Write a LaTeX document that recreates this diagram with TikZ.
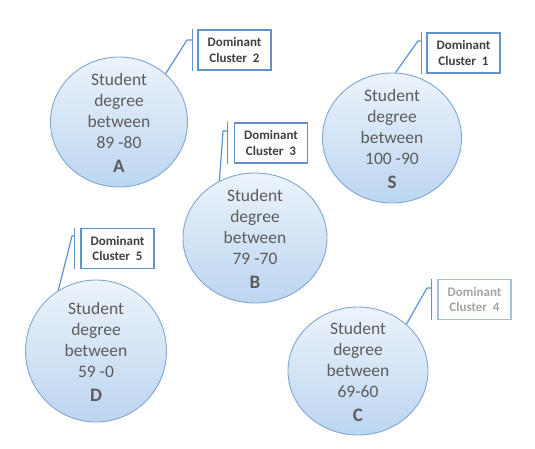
\documentclass[tikz,border=0pt]{standalone}
\usepackage{fontspec}
\setmainfont{Carlito}
\usetikzlibrary{shapes.geometric}
\definecolor{cborder}{RGB}{128,166,212}
\definecolor{ctop}{RGB}{236,243,251}
\definecolor{cbot}{RGB}{188,213,240}
\definecolor{ctxt}{RGB}{92,92,92}
\definecolor{kblue}{RGB}{98,146,204}
\definecolor{ktxt}{RGB}{64,64,64}
\definecolor{kpale}{RGB}{160,192,228}
\definecolor{kpaletxt}{RGB}{165,165,165}
\tikzset{
  cell/.style={ellipse, draw=cborder, line width=0.9pt, top color=ctop, bottom color=cbot, inner sep=0pt},
  ctext/.style={align=center, text=ctxt, font=\fontsize{17.5}{21}\selectfont},
  callbox/.style={draw=kblue, line width=1.3pt, fill=white, minimum width=73pt, minimum height=40pt, align=center, text=ktxt, font=\bfseries\fontsize{13}{15.5}\selectfont, inner sep=0pt},
  leader/.style={draw=kblue, line width=1.2pt},
  pale/.style={draw=kpale, text=kpaletxt}
}
\newcommand{\cl}[1]{\\[3pt]{\bfseries\fontsize{19}{21}\selectfont #1}}
\begin{document}
\begin{tikzpicture}[x=1pt,y=-1pt]
\useasboundingbox (0,0) rectangle (535,448);
% circles
\node[cell, minimum width=137pt, minimum height=130pt] (A) at (119,122) {};
\node[ctext] (At) at (119,123) {Student\\degree\\between\\89 -80\cl{A}};
\node[cell, minimum width=139pt, minimum height=130pt] (S) at (392,138) {};
\node[ctext] (St) at (392,139) {Student\\degree\\between\\100 -90\cl{S}};
\node[cell, minimum width=144pt, minimum height=130pt] (B) at (255,238) {};
\node[ctext] (Bt) at (255,239) {Student\\degree\\between\\79 -70\cl{B}};
\node[cell, minimum width=141pt, minimum height=142pt] (D) at (96,351) {};
\node[ctext] (Dt) at (96,352) {Student\\degree\\between\\59 -0\cl{D}};
\node[cell, minimum width=140pt, minimum height=128pt] (C) at (358,371) {};
\node[ctext] (Ct) at (358,372) {Student\\degree\\between\\69-60\cl{C}};
% callout boxes
\node[callbox] (k2) at (234.5,50) {Dominant\\Cluster~~2};
\node[callbox] (k1) at (463.5,53) {Dominant\\Cluster~~1};
\node[callbox] (k3) at (271,143) {Dominant\\Cluster~~3};
\node[callbox] (k5) at (117.5,248.5) {Dominant\\Cluster~~5};
\node[callbox, pale] (k4) at (474.5,299.5) {Dominant\\Cluster~~4};
% bracket ends
\coordinate (t2) at ([xshift=-5pt]k2.north west); \coordinate (u2) at ([xshift=-5pt]k2.south west);
\coordinate (t1) at ([xshift=-5pt]k1.north west); \coordinate (u1) at ([xshift=-5pt]k1.south west);
\coordinate (t3) at ([xshift=-6pt]k3.north west); \coordinate (u3) at ([xshift=-6pt]k3.south west);
\coordinate (t5) at ([xshift=-6pt]k5.north west); \coordinate (u5) at ([xshift=-6pt]k5.south west);
\coordinate (t4) at ([xshift=-6pt]k4.north west); \coordinate (u4) at ([xshift=-6pt]k4.south west);
\draw[leader] (t2) -- (u2);
\draw[leader] (t1) -- (u1);
\draw[leader] (t3) -- (u3);
\draw[leader] (t5) -- (u5);
\draw[leader] (t4) -- (u4);
% leader lines
\coordinate (b2) at (187,40);
\coordinate (b1) at (418,41);
\coordinate (b3) at (223,131);
\coordinate (b5) at (72,236);
\coordinate (b4) at (427,288);
\draw[leader] (A.46) -- (b2) -- (b2 -| t2);
\draw[leader] (S.87) -- (b1) -- (b1 -| t1);
\draw[leader] (B.122) -- (b3) -- (b3 -| t3);
\draw[leader] (D.122) -- (b5) -- (b5 -| t5);
\draw[leader] (C.44) -- (b4) -- (b4 -| t4);
\end{tikzpicture}
\end{document}
